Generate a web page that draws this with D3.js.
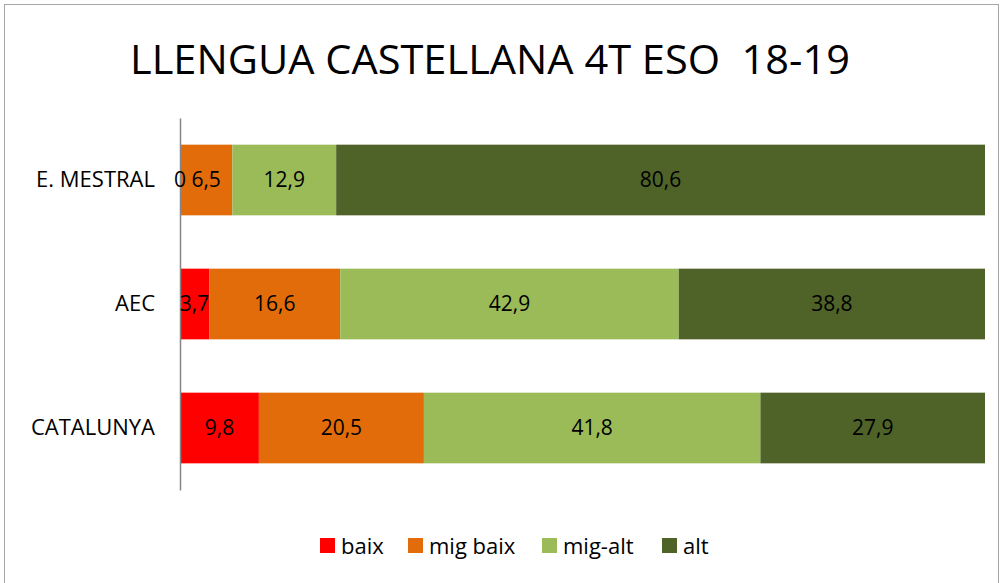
<!DOCTYPE html>
<html>
<head>
<meta charset="utf-8">
<script src="https://cdn.jsdelivr.net/npm/d3@7"></script>
<style>
  body { margin: 0; background: #fff; }
  text { font-family: "Open Sans", "Liberation Sans", sans-serif; fill: #000; }
</style>
</head>
<body>
<div id="chart"></div>
<script>
// Data
var categories = ["E. MESTRAL", "AEC", "CATALUNYA"];
var seriesNames = ["baix", "mig baix", "mig-alt", "alt"];
var baix = [0, 3.7, 9.8];
var migBaix = [6.5, 16.6, 20.5];
var migAlt = [12.9, 42.9, 41.8];
var alt = [80.6, 38.8, 27.9];
var colors = ["#FF0000", "#E36C0A", "#9BBB59", "#4F6228"];

var svgWidth = 1003;
var svgHeight = 583;

var svg = d3.select("#chart")
  .append("svg")
  .attr("width", svgWidth)
  .attr("height", svgHeight);

// outer border
svg.append("rect")
  .attr("x", 4.5).attr("y", 4.5)
  .attr("width", 994).attr("height", 590)
  .attr("fill", "none")
  .attr("stroke", "#a6a6a6")
  .attr("stroke-width", 1);

// title (keep the double space)
svg.append("text")
  .attr("x", 490)
  .attr("y", 74)
  .attr("text-anchor", "middle")
  .attr("font-size", "40px")
  .attr("textLength", 720)
  .attr("lengthAdjust", "spacingAndGlyphs")
  .style("white-space", "pre")
  .text("LLENGUA CASTELLANA 4T ESO  18-19");

// build rows and normalise to 100%
var rows = categories.map(function(c, i) {
  return { cat: c, "baix": baix[i], "mig baix": migBaix[i], "mig-alt": migAlt[i], "alt": alt[i] };
});
rows.forEach(function(r) {
  var total = d3.sum(seriesNames, k => r[k]);
  seriesNames.forEach(k => r["p_" + k] = r[k] / total);
});

var stack = d3.stack().keys(seriesNames.map(k => "p_" + k));
var stacked = stack(rows);

var x = d3.scaleLinear().domain([0, 1]).range([180, 985]);
var y = d3.scaleBand()
  .domain(categories)
  .range([118, 490])
  .paddingInner(0.43)
  .paddingOuter(0.215);

var fmt = function(v) { return d3.format(".1~f")(v).replace(".", ","); };

// bars
var groups = svg.append("g")
  .selectAll("g")
  .data(stacked)
  .enter()
  .append("g")
  .attr("fill", (d, i) => colors[i]);

groups.selectAll("rect")
  .data(d => d)
  .enter()
  .append("rect")
  .attr("x", d => x(d[0]))
  .attr("y", d => y(d.data.cat))
  .attr("width", d => x(d[1]) - x(d[0]))
  .attr("height", y.bandwidth());

// y axis
var leftAxis = d3.axisLeft(y).tickSize(0).tickPadding(25);
var yAxis = svg.append("g")
  .attr("transform", "translate(180,0)")
  .call(leftAxis);
yAxis.select(".domain").attr("stroke", "#868686").attr("stroke-width", 1.5);
yAxis.selectAll("text")
  .attr("font-size", "22px")
  .attr("font-family", "\"Open Sans\", sans-serif");

// data labels, drawn on top of all bars
var labels = svg.append("g");
stacked.forEach(function(s, si) {
  var key = seriesNames[si];
  labels.selectAll("text.s" + si)
    .data(s)
    .enter()
    .append("text")
    .attr("class", "s" + si)
    .attr("x", d => (x(d[0]) + x(d[1])) / 2)
    .attr("y", d => y(d.data.cat) + y.bandwidth() / 2)
    .attr("dy", "0.35em")
    .attr("text-anchor", "middle")
    .attr("font-size", "21px")
    .text(d => fmt(d.data[key]));
});

// legend
var legendX = [320, 408, 542, 662];
var legend = svg.append("g")
  .selectAll("g")
  .data(seriesNames)
  .enter()
  .append("g")
  .attr("transform", (d, i) => `translate(${legendX[i]}, 538)`);

legend.append("rect")
  .attr("width", 15)
  .attr("height", 15)
  .attr("fill", (d, i) => colors[i]);

legend.append("text")
  .attr("x", 21)
  .attr("y", 8)
  .attr("dy", "0.35em")
  .attr("font-size", "22px")
  .text(d => d);
</script>
</body>
</html>
